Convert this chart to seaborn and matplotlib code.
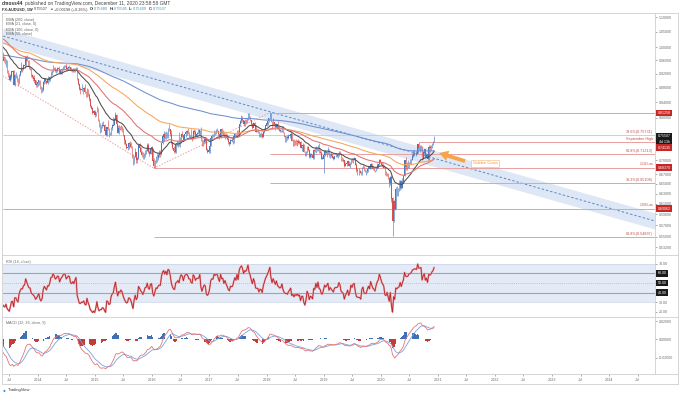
import numpy as np
import pandas as pd
import seaborn as sns
import matplotlib.pyplot as plt
from matplotlib.lines import Line2D
from matplotlib.ticker import FixedLocator, NullLocator, FuncFormatter

# weekly AUD/USD candles, week of 2013-05-20 up to week of 2020-12-07
first_week = "2013-05-20"
first_open = 0.9780
closes = [
    0.9680, 0.9565, 0.9520, 0.9590, 0.9270, 0.9140, 0.9010, 0.9120, 0.9260, 0.9270,
    0.8890, 0.9160, 0.9160, 0.9000, 0.8900, 0.9160, 0.9270, 0.9340, 0.9330, 0.9440,
    0.9460, 0.9690, 0.9570, 0.9450, 0.9360, 0.9350, 0.9160, 0.9100, 0.9060, 0.9000,
    0.8870, 0.8900, 0.8950,
    0.9000, 0.8780, 0.8690, 0.8740, 0.8960, 0.9050, 0.8990, 0.8930, 0.9040, 0.9030,
    0.9110, 0.9270, 0.9280, 0.9390, 0.9340, 0.9270, 0.9290, 0.9350, 0.9340, 0.9230,
    0.9300, 0.9340, 0.9390, 0.9420, 0.9420, 0.9340, 0.9370, 0.9400, 0.9390, 0.9290,
    0.9280, 0.9310, 0.9280, 0.9340, 0.9380, 0.9030, 0.8900, 0.8760, 0.8750, 0.8770,
    0.8760, 0.8780, 0.8680, 0.8650, 0.8740, 0.8600, 0.8500, 0.8300, 0.8240, 0.8140,
    0.8160, 0.8080,
    0.8140, 0.8240, 0.7970, 0.7780, 0.7800, 0.7800, 0.7830, 0.7810, 0.7690, 0.7580,
    0.7770, 0.7740, 0.7620, 0.7630, 0.7760, 0.7810, 0.7830, 0.7960, 0.8060, 0.7840,
    0.7640, 0.7740, 0.7720, 0.7770, 0.7720, 0.7580, 0.7460, 0.7360, 0.7290, 0.7300,
    0.7380, 0.7370, 0.7300, 0.7130, 0.6920, 0.7080, 0.7190, 0.7000, 0.7050, 0.7340,
    0.7280, 0.7190, 0.7130, 0.7040, 0.7110, 0.7210, 0.7220, 0.7330, 0.7180, 0.7150,
    0.7280, 0.7290,
    0.6990, 0.6870, 0.6970, 0.7080, 0.7060, 0.7120, 0.7150, 0.7140, 0.7390, 0.7540,
    0.7600, 0.7520, 0.7620, 0.7540, 0.7740, 0.7720, 0.7600, 0.7400, 0.7270, 0.7200,
    0.7180, 0.7360, 0.7380, 0.7430, 0.7370, 0.7530, 0.7610, 0.7580, 0.7470, 0.7600,
    0.7650, 0.7670, 0.7640, 0.7570, 0.7570, 0.7500, 0.7480, 0.7680, 0.7650, 0.7570,
    0.7610, 0.7620, 0.7620, 0.7700, 0.7450, 0.7340, 0.7420, 0.7470, 0.7450, 0.7230,
    0.7190, 0.7220,
    0.7320, 0.7500, 0.7550, 0.7540, 0.7670, 0.7650, 0.7680, 0.7670, 0.7600, 0.7550,
    0.7710, 0.7630, 0.7640, 0.7540, 0.7600, 0.7530, 0.7480, 0.7410, 0.7380, 0.7460,
    0.7450, 0.7460, 0.7540, 0.7610, 0.7570, 0.7690, 0.7600, 0.7840, 0.7930, 0.7980,
    0.7940, 0.7850, 0.7930, 0.7920, 0.7980, 0.8110, 0.7990, 0.7940, 0.7840, 0.7760,
    0.7880, 0.7810, 0.7660, 0.7650, 0.7650, 0.7560, 0.7610, 0.7600, 0.7530, 0.7650,
    0.7730, 0.7810,
    0.7860, 0.7920, 0.8000, 0.8100, 0.7910, 0.7800, 0.7900, 0.7840, 0.7770, 0.7850,
    0.7740, 0.7710, 0.7680, 0.7690, 0.7760, 0.7630, 0.7560, 0.7530, 0.7530, 0.7510,
    0.7550, 0.7570, 0.7600, 0.7440, 0.7460, 0.7400, 0.7430, 0.7410, 0.7430, 0.7390,
    0.7400, 0.7280, 0.7330, 0.7330, 0.7190, 0.7110, 0.7170, 0.7290, 0.7230, 0.7080,
    0.7130, 0.7110, 0.7060, 0.7220, 0.7200, 0.7310, 0.7220, 0.7330, 0.7180, 0.7160,
    0.7040, 0.7040,
    0.7120, 0.7200, 0.7160, 0.7190, 0.7230, 0.7080, 0.7130, 0.7100, 0.7060, 0.7030,
    0.7090, 0.7100, 0.7100, 0.7110, 0.7170, 0.7140, 0.7030, 0.7010, 0.6990, 0.6870,
    0.6920, 0.6940, 0.6980, 0.6880, 0.6920, 0.7020, 0.6980, 0.7030, 0.7040, 0.6900,
    0.6790, 0.6770, 0.6770, 0.6760, 0.6730, 0.6850, 0.6880, 0.6770, 0.6760, 0.6760,
    0.6810, 0.6850, 0.6810, 0.6910, 0.6860, 0.6810, 0.6790, 0.6760, 0.6830, 0.6880,
    0.6910, 0.7000,
    0.6960, 0.6900, 0.6870, 0.6840, 0.6690, 0.6670, 0.6710, 0.6620, 0.6510, 0.6630,
    0.6200, 0.5780, 0.6150, 0.6010, 0.6380, 0.6340, 0.6390, 0.6410, 0.6560, 0.6410,
    0.6540, 0.6660, 0.6990, 0.6860, 0.6850, 0.6860, 0.6960, 0.6970, 0.7000, 0.7100,
    0.7140, 0.7160, 0.7160, 0.7150, 0.7360, 0.7280, 0.7280, 0.7300, 0.7040, 0.7170,
    0.7240, 0.7080, 0.7140, 0.7030, 0.7290, 0.7270, 0.7300, 0.7380, 0.7430, 0.75507,
]
highs = [
    0.9850, 0.9720, 0.9690, 0.9640, 0.9610, 0.9310, 0.9230, 0.9180, 0.9270, 0.9320,
    0.9300, 0.9190, 0.9240, 0.9170, 0.9060, 0.9180, 0.9290, 0.9530, 0.9390, 0.9470,
    0.9530, 0.9700, 0.9760, 0.9600, 0.9590, 0.9400, 0.9370, 0.9180, 0.9160, 0.9160,
    0.9020, 0.8950, 0.8990,
    0.9010, 0.9030, 0.8860, 0.8830, 0.8980, 0.9080, 0.9070, 0.9030, 0.9130, 0.9080,
    0.9120, 0.9280, 0.9300, 0.9460, 0.9400, 0.9380, 0.9330, 0.9390, 0.9420, 0.9340,
    0.9310, 0.9360, 0.9410, 0.9440, 0.9460, 0.9500, 0.9400, 0.9410, 0.9460, 0.9400,
    0.9330, 0.9350, 0.9350, 0.9350, 0.9400, 0.9390, 0.9080, 0.8920, 0.8820, 0.8900,
    0.8800, 0.8830, 0.8900, 0.8700, 0.8790, 0.8760, 0.8660, 0.8530, 0.8340, 0.8280,
    0.8200, 0.8200,
    0.8160, 0.8300, 0.8250, 0.7970, 0.7860, 0.7830, 0.7890, 0.7910, 0.7840, 0.7710,
    0.7770, 0.7940, 0.7740, 0.7660, 0.7770, 0.7850, 0.8030, 0.8000, 0.8160, 0.8100,
    0.7830, 0.7820, 0.7810, 0.7830, 0.7790, 0.7740, 0.7570, 0.7480, 0.7400, 0.7340,
    0.7410, 0.7440, 0.7420, 0.7330, 0.7140, 0.7100, 0.7270, 0.7190, 0.7070, 0.7350,
    0.7380, 0.7290, 0.7200, 0.7180, 0.7160, 0.7240, 0.7260, 0.7380, 0.7380, 0.7240,
    0.7300, 0.7320,
    0.7270, 0.7050, 0.7000, 0.7090, 0.7150, 0.7160, 0.7240, 0.7240, 0.7410, 0.7560,
    0.7680, 0.7650, 0.7680, 0.7650, 0.7760, 0.7840, 0.7720, 0.7700, 0.7400, 0.7330,
    0.7270, 0.7370, 0.7460, 0.7440, 0.7650, 0.7540, 0.7610, 0.7680, 0.7590, 0.7610,
    0.7680, 0.7700, 0.7760, 0.7660, 0.7580, 0.7730, 0.7560, 0.7690, 0.7730, 0.7700,
    0.7660, 0.7730, 0.7660, 0.7710, 0.7780, 0.7490, 0.7450, 0.7500, 0.7520, 0.7520,
    0.7280, 0.7250,
    0.7340, 0.7510, 0.7600, 0.7610, 0.7700, 0.7670, 0.7720, 0.7740, 0.7700, 0.7610,
    0.7720, 0.7750, 0.7690, 0.7650, 0.7610, 0.7620, 0.7600, 0.7540, 0.7420, 0.7480,
    0.7500, 0.7460, 0.7560, 0.7630, 0.7610, 0.7710, 0.7710, 0.7840, 0.7940, 0.8070,
    0.8060, 0.7940, 0.7960, 0.7960, 0.7990, 0.8120, 0.8120, 0.8060, 0.7950, 0.7880,
    0.7900, 0.7900, 0.7820, 0.7720, 0.7730, 0.7670, 0.7630, 0.7640, 0.7620, 0.7670,
    0.7740, 0.7810,
    0.7880, 0.7930, 0.8000, 0.8140, 0.8130, 0.7910, 0.7990, 0.7900, 0.7860, 0.7870,
    0.7910, 0.7790, 0.7730, 0.7710, 0.7810, 0.7810, 0.7660, 0.7560, 0.7560, 0.7580,
    0.7610, 0.7610, 0.7680, 0.7620, 0.7480, 0.7480, 0.7450, 0.7480, 0.7450, 0.7480,
    0.7450, 0.7430, 0.7330, 0.7380, 0.7360, 0.7210, 0.7200, 0.7310, 0.7310, 0.7250,
    0.7150, 0.7160, 0.7120, 0.7260, 0.7300, 0.7320, 0.7300, 0.7340, 0.7390, 0.7260,
    0.7200, 0.7090,
    0.7130, 0.7230, 0.7210, 0.7200, 0.7300, 0.7250, 0.7160, 0.7180, 0.7160, 0.7090,
    0.7100, 0.7170, 0.7140, 0.7150, 0.7200, 0.7200, 0.7150, 0.7070, 0.7050, 0.7000,
    0.6950, 0.6950, 0.7010, 0.6980, 0.6950, 0.7030, 0.7050, 0.7040, 0.7080, 0.7050,
    0.6930, 0.6820, 0.6820, 0.6790, 0.6770, 0.6850, 0.6900, 0.6880, 0.6810, 0.6790,
    0.6820, 0.6860, 0.6870, 0.6930, 0.6930, 0.6870, 0.6850, 0.6790, 0.6860, 0.6940,
    0.6920, 0.7020,
    0.7030, 0.6970, 0.6940, 0.6890, 0.6850, 0.6770, 0.6730, 0.6730, 0.6630, 0.6660,
    0.6690, 0.6230, 0.6180, 0.6210, 0.6440, 0.6450, 0.6420, 0.6570, 0.6570, 0.6580,
    0.6620, 0.6690, 0.7000, 0.7060, 0.6970, 0.7000, 0.6970, 0.7020, 0.7020, 0.7160,
    0.7230, 0.7240, 0.7200, 0.7280, 0.7370, 0.7420, 0.7340, 0.7340, 0.7320, 0.7210,
    0.7250, 0.7240, 0.7160, 0.7160, 0.7340, 0.7340, 0.7340, 0.7400, 0.7440, 0.75585,
]
lows = [
    0.9620, 0.9530, 0.9480, 0.9390, 0.9230, 0.9110, 0.9010, 0.8990, 0.9040, 0.9140,
    0.8880, 0.8850, 0.9060, 0.8950, 0.8850, 0.8890, 0.9130, 0.9260, 0.9260, 0.9300,
    0.9360, 0.9430, 0.9560, 0.9430, 0.9330, 0.9310, 0.9110, 0.9080, 0.9000, 0.8920,
    0.8820, 0.8820, 0.8850,
    0.8880, 0.8770, 0.8660, 0.8670, 0.8720, 0.8890, 0.8940, 0.8890, 0.8910, 0.8950,
    0.8990, 0.9100, 0.9170, 0.9240, 0.9320, 0.9250, 0.9220, 0.9260, 0.9270, 0.9200,
    0.9200, 0.9200, 0.9310, 0.9340, 0.9380, 0.9310, 0.9320, 0.9300, 0.9370, 0.9270,
    0.9240, 0.9250, 0.9240, 0.9260, 0.9300, 0.9010, 0.8870, 0.8740, 0.8640, 0.8700,
    0.8640, 0.8720, 0.8650, 0.8540, 0.8550, 0.8570, 0.8430, 0.8270, 0.8220, 0.8110,
    0.8100, 0.8030,
    0.8040, 0.8140, 0.7920, 0.7770, 0.7630, 0.7640, 0.7760, 0.7800, 0.7680, 0.7560,
    0.7560, 0.7700, 0.7530, 0.7580, 0.7580, 0.7690, 0.7820, 0.7820, 0.7940, 0.7760,
    0.7630, 0.7600, 0.7690, 0.7690, 0.7660, 0.7560, 0.7370, 0.7340, 0.7260, 0.7230,
    0.7250, 0.7300, 0.7280, 0.7040, 0.6900, 0.6910, 0.7070, 0.6940, 0.6940, 0.7030,
    0.7180, 0.7160, 0.7070, 0.7020, 0.7020, 0.7080, 0.7140, 0.7200, 0.7170, 0.7100,
    0.7130, 0.7230,
    0.6970, 0.6830, 0.6830, 0.6940, 0.6970, 0.7000, 0.7070, 0.7070, 0.7110, 0.7360,
    0.7440, 0.7490, 0.7490, 0.7500, 0.7510, 0.7680, 0.7550, 0.7370, 0.7260, 0.7150,
    0.7150, 0.7150, 0.7330, 0.7300, 0.7310, 0.7290, 0.7390, 0.7520, 0.7440, 0.7450,
    0.7540, 0.7580, 0.7600, 0.7530, 0.7490, 0.7480, 0.7440, 0.7490, 0.7610, 0.7530,
    0.7520, 0.7600, 0.7580, 0.7580, 0.7440, 0.7310, 0.7310, 0.7380, 0.7400, 0.7220,
    0.7170, 0.7160,
    0.7170, 0.7320, 0.7490, 0.7520, 0.7520, 0.7580, 0.7610, 0.7640, 0.7560, 0.7490,
    0.7510, 0.7600, 0.7580, 0.7520, 0.7490, 0.7510, 0.7460, 0.7370, 0.7330, 0.7370,
    0.7410, 0.7370, 0.7400, 0.7520, 0.7530, 0.7560, 0.7570, 0.7580, 0.7800, 0.7870,
    0.7900, 0.7810, 0.7810, 0.7880, 0.7870, 0.7950, 0.7980, 0.7920, 0.7800, 0.7730,
    0.7770, 0.7800, 0.7640, 0.7640, 0.7620, 0.7530, 0.7530, 0.7530, 0.7500, 0.7520,
    0.7630, 0.7710,
    0.7810, 0.7820, 0.7900, 0.7980, 0.7900, 0.7760, 0.7800, 0.7800, 0.7710, 0.7740,
    0.7720, 0.7680, 0.7640, 0.7650, 0.7660, 0.7620, 0.7540, 0.7410, 0.7410, 0.7460,
    0.7490, 0.7500, 0.7570, 0.7430, 0.7330, 0.7310, 0.7350, 0.7350, 0.7310, 0.7370,
    0.7360, 0.7270, 0.7200, 0.7230, 0.7180, 0.7090, 0.7100, 0.7150, 0.7200, 0.7050,
    0.7040, 0.7080, 0.7020, 0.7030, 0.7190, 0.7170, 0.7200, 0.7200, 0.7160, 0.7150,
    0.7030, 0.7020,
    0.6720, 0.7100, 0.7140, 0.7080, 0.7140, 0.7060, 0.7050, 0.7070, 0.7050, 0.7000,
    0.7020, 0.7070, 0.7060, 0.7050, 0.7100, 0.7130, 0.6990, 0.6990, 0.6970, 0.6860,
    0.6870, 0.6870, 0.6950, 0.6870, 0.6830, 0.6920, 0.6960, 0.6940, 0.7000, 0.6890,
    0.6750, 0.6680, 0.6680, 0.6730, 0.6690, 0.6690, 0.6830, 0.6760, 0.6740, 0.6670,
    0.6720, 0.6750, 0.6800, 0.6800, 0.6850, 0.6780, 0.6770, 0.6750, 0.6760, 0.6810,
    0.6840, 0.6900,
    0.6940, 0.6850, 0.6860, 0.6830, 0.6680, 0.6660, 0.6660, 0.6590, 0.6430, 0.6480,
    0.6130, 0.5510, 0.5760, 0.5980, 0.6000, 0.6250, 0.6260, 0.6360, 0.6370, 0.6400,
    0.6410, 0.6520, 0.6660, 0.6780, 0.6780, 0.6830, 0.6830, 0.6920, 0.6920, 0.7000,
    0.7080, 0.7100, 0.7100, 0.7130, 0.7150, 0.7230, 0.7190, 0.7240, 0.7010, 0.7030,
    0.7130, 0.7040, 0.7060, 0.6990, 0.7000, 0.7190, 0.7240, 0.7280, 0.7340, 0.7410,
]

ema_periods = [200, 21, 100, 50]
ema_seeds = [0.975, 1.005, 1.015, 1.030]
ema_labels = ["EMA (200, close)", "EMA (21, close, 0)", "EMA (100, close, 0)", "EMA (50, close)"]
ema_colors = ["#6f8fcf", "#4d4d4d", "#f5a65b", "#e07272"]
macd_seed_fast, macd_seed_slow, macd_seed_signal = 1.000, 1.012, -0.004
rsi_seed_gain, rsi_seed_loss = 0.004, 0.010

# horizontal levels drawn on the chart
level_prices = [0.81258, 0.75731, 0.74135, 0.71313, 0.68370, 0.65108, 0.60062, 0.54897]
level_texts = ["", "78.6%(0.75731)", "September High", "61.8%(0.71313)", "2016 Low",
               "38.2%(0.65108)", "2008 Low", "61.8%(0.54897)"]
level_starts = ["2018-01-22", "2013-05-20", "2020-08-31", "2018-01-22", "2016-01-11",
                "2018-01-22", "2013-05-20", "2016-01-11"]

# descending channel and trend lines (two anchors each)
channel_dates = ["2013-05-22", "2024-10-19"]
channel_mid = [1.036, 0.5777]
channel_half = 1.0256
trend_a_dates, trend_a_prices = ["2013-05-20", "2016-01-11"], [0.913, 0.6827]
trend_b_dates, trend_b_prices = ["2016-01-11", "2018-01-22"], [0.6827, 0.8136]

price_ticks = [1.10, 1.05, 1.00, 0.96, 0.92, 0.88, 0.84, 0.80, 0.70, 0.67, 0.65,
               0.63, 0.61, 0.59, 0.57, 0.55, 0.532]
x_tick_dates = ["2013-07-01", "2014-01-01", "2014-07-01", "2015-01-01", "2015-07-01",
                "2016-01-01", "2016-07-01", "2017-01-01", "2017-07-01", "2018-01-01",
                "2018-07-01", "2019-01-01", "2019-07-01", "2020-01-01", "2020-07-01",
                "2021-01-01", "2021-07-01", "2022-01-01", "2022-07-01", "2023-01-01",
                "2023-07-01", "2024-01-01", "2024-07-01"]
x_tick_labels = ["Jul", "2014", "Jul", "2015", "Jul", "2016", "Jul", "2017", "Jul", "2018",
                 "Jul", "2019", "Jul", "2020", "Jul", "2021", "Jul", "2022", "Jul", "2023",
                 "Jul", "2024", "Jul"]

sns.set_theme(style="white")
plt.rcParams["font.family"] = ["Liberation Sans", "DejaVu Sans"]

weeks = pd.date_range(first_week, periods=len(closes), freq="W-MON")
c = np.array(closes)
o = np.array([first_open] + closes[:-1])
hi = np.array(highs)
lo = np.array(lows)


def ema(values, span, seed):
    s = pd.Series(np.r_[seed, values])
    return s.ewm(span=span, adjust=False).mean().to_numpy()[1:]


def wilder(values, seed, n=14):
    s = pd.Series(np.r_[seed, values])
    return s.ewm(alpha=1 / n, adjust=False).mean().to_numpy()[1:]


chg = c - o
rsi = 100 - 100 / (1 + wilder(np.clip(chg, 0, None), rsi_seed_gain) /
                   wilder(np.clip(-chg, 0, None), rsi_seed_loss))
macd = ema(c, 12, macd_seed_fast) - ema(c, 26, macd_seed_slow)
signal = ema(macd, 9, macd_seed_signal)
hist = macd - signal

W, H = 680, 395
fig = plt.figure(figsize=(6.8, 3.95), dpi=100)
fx = lambda px: px / W
fy = lambda py: 1 - py / H

ax = fig.add_axes([fx(3), fy(254), fx(652), 240 / H])
ax_rsi = fig.add_axes([fx(3), fy(316), fx(652), 60 / H], sharex=ax)
ax_macd = fig.add_axes([fx(3), fy(374), fx(652), 57 / H], sharex=ax)
x0, x1 = pd.Timestamp(channel_dates[0]), pd.Timestamp(channel_dates[1])
grey = "#6b6b6b"

# ---- price panel
ax.set_yscale("log")
cd = pd.to_datetime(channel_dates)
mid = np.array(channel_mid)
ax.fill_between(cd, mid * channel_half, mid / channel_half, color="#dde7f5", lw=0, zorder=0)
ax.plot(cd, mid, ls=(0, (2.5, 2)), color="#5f88c6", lw=0.7, zorder=1)
ax.plot(pd.to_datetime(trend_a_dates), trend_a_prices, ls=(0, (1.5, 1.5)), color="#f2a0a0", lw=0.7)
ax.plot(pd.to_datetime(trend_b_dates), trend_b_prices, ls=(0, (1.5, 1.5)), color="#f2a0a0", lw=0.7)

for p, t, s in zip(level_prices, level_texts, level_starts):
    lc = "#dcc8c8" if t.startswith("78.6") else "#e8a0a0"
    ax.hlines(p, pd.Timestamp(s), x1, color=lc, lw=0.7, zorder=1)
    if t:
        fs = 2.2 if "Low" in t else 2.7
        ax.text(0.997, p * 1.004, t, transform=ax.get_yaxis_transform(), ha="right",
                va="bottom", fontsize=fs, color="#c0504d")

up = c >= o
cols = np.where(up, "#4a78c0", "#d65252")
ax.vlines(weeks, lo, hi, colors=cols, lw=0.45, zorder=3)
ax.bar(weeks, np.abs(c - o) + 0.0008, bottom=np.minimum(c, o) - 0.0004, width=4.3,
       color=cols, lw=0, zorder=3)

for n, seed, col in zip(ema_periods, ema_seeds, ema_colors):
    sns.lineplot(x=weeks, y=ema(c, n, seed), ax=ax, color=col, lw=0.75, zorder=4)

ax.set_ylim(0.5206, 1.1105)
ax.set_xlim(x0, x1)
ax.yaxis.tick_right()
ax.yaxis.set_major_locator(FixedLocator(price_ticks))
ax.yaxis.set_minor_locator(NullLocator())
ax.yaxis.set_major_formatter(FuncFormatter(lambda v, p: f"{v:.5f}"))
ax.tick_params(axis="y", labelsize=2.6, colors=grey, length=1.5, width=0.4, pad=1, right=True)
ax.tick_params(axis="x", bottom=False, labelbottom=False)
ax.set_xlabel("")
ax.set_ylabel("")


def side_box(axis, y, text, fc):
    axis.text(1.004, y, text, transform=axis.get_yaxis_transform(), ha="left", va="center",
              fontsize=2.6, color="white",
              bbox=dict(boxstyle="square,pad=0.4", fc=fc, ec="none"))


side_box(ax, 0.81258, "0.81258", "#c62828")
side_box(ax, 0.75507, "0.75507", "#1b1b1b")
side_box(ax, 0.7413, " 4d 13h ", "#1b1b1b")
side_box(ax, 0.7286, "0.74135", "#c62828")
side_box(ax, 0.68370, "0.68370", "#c62828")
side_box(ax, 0.60062, "0.60062", "#c62828")

# golden cross call-out
ax.annotate("", xy=(pd.Timestamp("2020-12-22"), 0.718), xytext=(pd.Timestamp("2021-07-10"), 0.696),
            arrowprops=dict(arrowstyle="simple,head_length=1.3,head_width=1.5,tail_width=0.55",
                            fc="#f7a54a", ec="none", mutation_scale=5), zorder=6)
ax.text(pd.Timestamp("2021-08-12"), 0.693, "Golden Cross", fontsize=3.0, color="#f0953a",
        va="center", ha="left",
        bbox=dict(boxstyle="square,pad=0.35", fc="white", ec="#f7b373", lw=0.4))

# ---- RSI panel
ax_rsi.axhspan(30, 70, color="#e4ebf6", lw=0, zorder=0)
ax_rsi.axhline(70, color="#c9d4e6", lw=0.5)
ax_rsi.axhline(30, color="#c9d4e6", lw=0.5)
ax_rsi.axhline(60, color="#9aa6b8", lw=0.8)
ax_rsi.axhline(40, color="#9aa6b8", lw=0.8)
ax_rsi.axhline(50, color="#a9b6cc", lw=0.5, ls=(0, (1.5, 1.5)))
sns.lineplot(x=weeks, y=rsi, ax=ax_rsi, color="#f0a0a0", lw=1.3, zorder=3)
sns.lineplot(x=weeks, y=rsi, ax=ax_rsi, color="#b3262e", lw=0.6, zorder=4)
ax_rsi.set_ylim(15.3, 78.4)
ax_rsi.yaxis.tick_right()
ax_rsi.set_yticks([70, 30, 20])
ax_rsi.yaxis.set_major_formatter(FuncFormatter(lambda v, p: f"{v:.2f}"))
ax_rsi.tick_params(axis="y", labelsize=2.6, colors=grey, length=1.5, width=0.4, pad=1, right=True)
ax_rsi.tick_params(axis="x", bottom=False, labelbottom=False)
for v in [60, 50, 40]:
    side_box(ax_rsi, v, f"{v:.2f}", "#1b1b1b")
ax_rsi.text(0.004, 0.93, "RSI (14, close)", transform=ax_rsi.transAxes, fontsize=2.7,
            color=grey, va="top")
ax_rsi.set_xlabel("")
ax_rsi.set_ylabel("")

# ---- MACD panel
ax_macd.bar(weeks, hist, width=4.3, color=np.where(hist >= 0, "#3f6fb5", "#c33b3b"), lw=0)
sns.lineplot(x=weeks, y=signal, ax=ax_macd, color="#7aa2df", lw=0.6)
sns.lineplot(x=weeks, y=macd, ax=ax_macd, color="#e27474", lw=0.6)
ax_macd.set_ylim(-0.0378, 0.0244)
ax_macd.yaxis.tick_right()
ax_macd.set_yticks([0.02, 0.0, -0.02])
ax_macd.yaxis.set_major_formatter(FuncFormatter(lambda v, p: f"{v:.5f}"))
ax_macd.tick_params(axis="y", labelsize=2.6, colors=grey, length=1.5, width=0.4, pad=1, right=True)
ax_macd.set_xticks(pd.to_datetime(x_tick_dates))
ax_macd.set_xticklabels(x_tick_labels)
ax_macd.tick_params(axis="x", labelsize=2.7, colors=grey, length=1.5, width=0.4, pad=1.2, bottom=True)
ax_macd.text(0.004, 0.93, "MACD (12, 26, close, 9)", transform=ax_macd.transAxes, fontsize=2.7,
             color=grey, va="top")
ax_macd.set_xlim(x0, x1)
ax_macd.set_xlabel("")
ax_macd.set_ylabel("")

for a in (ax, ax_rsi, ax_macd):
    for sp in a.spines.values():
        sp.set_visible(False)


def fig_line(xa, ya, xb, yb, col="#cfcfcf", lw=0.6):
    fig.add_artist(Line2D([fx(xa), fx(xb)], [fy(ya), fy(yb)], transform=fig.transFigure,
                          color=col, lw=lw))


fig_line(2, 13, 678, 13)
fig_line(2, 384, 678, 384)
fig_line(2, 13, 2, 384)
fig_line(678, 13, 678, 384)
fig_line(2, 255, 678, 255)
fig_line(2, 316.5, 678, 316.5)
fig_line(2, 374, 678, 374)
fig_line(655, 13, 655, 374)

# header rows: pieces placed one after another
renderer = fig.canvas.get_renderer()


def write_row(y_px, pieces, size):
    xpos = fx(2)
    for txt, col, wt, gap in pieces:
        t = fig.text(xpos, fy(y_px), txt, fontsize=size, color=col, weight=wt, va="center")
        xpos = t.get_window_extent(renderer).x1 / fig.bbox.width + fx(gap)


dark, mid_grey, teal = "#333333", "#444444", "#2a9fd6"
write_row(3.5, [("dmoss44", dark, "bold", 1.3),
                ("published on TradingView.com, December 11, 2020 23:58:58 GMT", mid_grey, "normal", 0)],
          3.5)
write_row(9.5, [("FX:AUDUSD, 1W", dark, "bold", 1.6), ("0.75507", mid_grey, "normal", 1.2),
                ("\u25B2", "#26a69a", "normal", 1.2), ("+0.00198 (+0.26%)", mid_grey, "normal", 1.6),
                ("O:", dark, "bold", 0.4), ("0.75480", teal, "normal", 1.4),
                ("H:", dark, "bold", 0.4), ("0.75585", teal, "normal", 1.4),
                ("L:", dark, "bold", 0.4), ("0.75409", teal, "normal", 1.4),
                ("C:", dark, "bold", 0.4), ("0.75507", teal, "normal", 0)], 2.8)

for i, lab in enumerate(ema_labels):
    fig.text(fx(6), fy(19.5 + 5 * i), lab, fontsize=2.7, color="#666666", va="center")

fig.text(fx(3), fy(390), "\u25CF", fontsize=3.5, color="#2196f3", va="center")
fig.text(fx(8), fy(390), "TradingView", fontsize=3.0, color="#333333", va="center")

fig.savefig("out.png", dpi=100, facecolor="white")
